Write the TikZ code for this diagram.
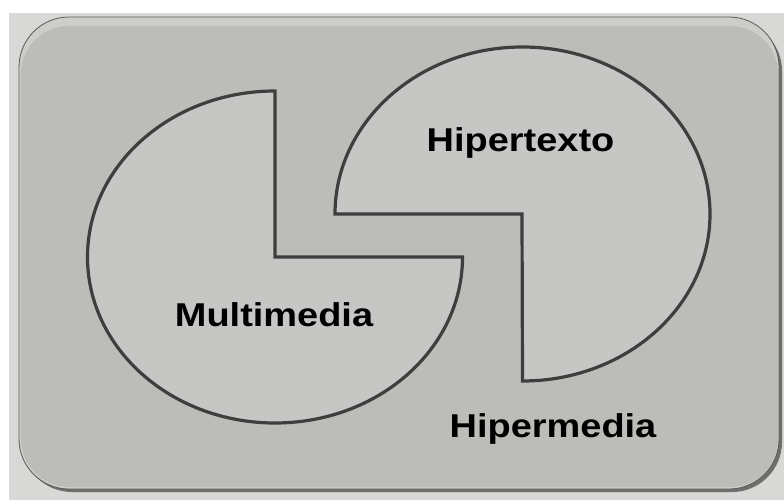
\documentclass[tikz,border=0pt]{standalone}
\usepackage{fontspec}
\setmainfont{Liberation Sans}
\definecolor{outerbg}{RGB}{216,216,215}
\definecolor{panel}{RGB}{188,188,184}
\definecolor{panelhi}{RGB}{205,205,202}
\definecolor{pie}{RGB}{198,198,196}
\definecolor{pieline}{RGB}{62,62,62}
\definecolor{shadowc}{RGB}{110,110,108}
\begin{document}
\begin{tikzpicture}[x=1pt,y=-1pt,
  piestyle/.style={fill=pie,draw=pieline,line width=3.2pt,line join=miter},
  lbl/.style={font=\fontsize{33}{37}\selectfont\bfseries,inner sep=0pt,anchor=base,xscale=1.15,transform shape}]
\useasboundingbox (0,0) rectangle (784,500);
\fill[white] (0,0) rectangle (784,500);
\fill[outerbg] (9,13) rectangle (784,500);
% shadow
\fill[shadowc,rounded corners=50pt] (22,21) rectangle (782,492);
\fill[panelhi,rounded corners=50pt] (19,17) rectangle (779,489);
\fill[panel,rounded corners=48pt] (21,26) rectangle (778,487);
\draw[gray!70!black,line width=0.8pt,rounded corners=50pt] (19,17) rectangle (779,489);
% left pie
\draw[piestyle] (275,257) coordinate (lc) -- (462.5,257) arc[start angle=0,end angle=270,x radius=187.5,y radius=166] -- cycle;
% right pie
\draw[piestyle] (522,214) coordinate (rc) -- (335,214) arc[start angle=180,end angle=450,x radius=187.5,y radius=167] -- cycle;
\node[lbl] (hipertexto) at (520.5,151) {Hipertexto};
\node[lbl] (multimedia) at (274,326) {Multimedia};
\node[lbl] (hipermedia) at (553,437) {Hipermedia};
\end{tikzpicture}
\end{document}
